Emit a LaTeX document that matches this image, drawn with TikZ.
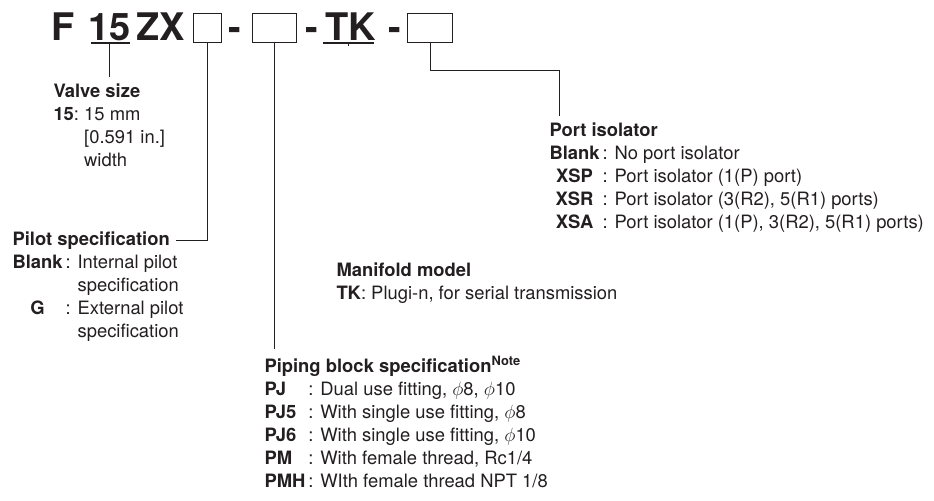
\documentclass[tikz,border=0pt]{standalone}
\usepackage{fontspec}
\setmainfont{TeX Gyre Heros}
\usetikzlibrary{calc}
\definecolor{ink}{HTML}{231F20}
\begin{document}
\begin{tikzpicture}[x=.75pt,y=-.75pt,color=ink,line width=.75pt,
  code/.style={font=\fontsize{28.5}{30}\selectfont\bfseries,inner sep=0,anchor=base west},
  blank/.style={draw,line width=1pt,minimum width=#1,minimum height=21.75pt,inner sep=0,anchor=north west},
  head/.style={font=\fontsize{13.8}{17.25}\selectfont\bfseries,inner sep=0,anchor=base west},
  txt/.style={font=\fontsize{13.8}{17.25}\selectfont,inner sep=0,anchor=base west},
  lead/.style={shorten >=4.5pt}]
\useasboundingbox(0,0)rectangle(934,500);
% model code
\node[code](f)at(51,40){F};\node[code](sz)at(88,40){15};\node[code](zx)at(136,40){ZX};
\node[blank=21pt](b1)at(193,13){};\node[code](d1)at(228,40){-};
\node[blank=33pt](b2)at(252,13){};\node[code](d2)at(305,40){-};
\node[code](tk)at(325,40){TK};\node[code](d3)at(388,40){-};
\node[blank=33.75pt](b3)at(407,13){};
\draw[line width=1pt]($(sz.base west)+(3,3)$)--($(sz.base east)+(-1,3)$);
\draw[line width=1pt]($(tk.base west)+(-2,3)$)--($(tk.base east)+(-3,3)$);
% valve size
\node[head](vs)at(53,97){Valve size};
\node[txt](vsl)at(53,120){\begin{tabular}[t]{@{}l@{}l@{}}\textbf{15}:&\ 15 mm\\&\ [0.591 in.]\\&\ width\end{tabular}};
\draw[lead]($(sz.base)+(0,3)$)--(sz.base|-vs.north);
% pilot specification
\node[head](ps)at(12,245){Pilot specification};
\node[txt](psl)at(12,268){\begin{tabular}[t]{@{}c@{\,}l@{}}\textbf{Blank}&: Internal pilot\\&\phantom{: }specification\\\textbf{G}&: External pilot\\&\phantom{: }specification\end{tabular}};
\draw[lead](b1.south)|-(ps.east);
% piping block
\node[head](pb)at(264,372){Piping block specification\textsuperscript{Note}};
\node[txt](pbl)at(264,395){\begin{tabular}[t]{@{}l@{\,}l@{}}\textbf{PJ}&: Dual use fitting, $\phi$8, $\phi$10\\\textbf{PJ5}&: With single use fitting, $\phi$8\\\textbf{PJ6}&: With single use fitting, $\phi$10\\\textbf{PM}&: With female thread, Rc1/4\\\textbf{PMH}&: WIth female thread NPT 1/8\end{tabular}};
\draw[lead](b2.south)--(b2.south|-pb.north);
% manifold model
\node[head](mm)at(336,276){Manifold model};
\node[txt](mml)at(336,299){\textbf{TK}: Plugi-n, for serial transmission};
\draw[lead]($(tk.base)+(-2,3)$)--($(tk.base)+(-2,0)$|-mm.north);
% port isolator
\node[head](pi)at(549,136){Port isolator};
\node[txt](pil)at(549,159){\begin{tabular}[t]{@{}c@{\,}l@{}}\textbf{Blank}&: No port isolator\\\textbf{XSP}&: Port isolator (1(P) port)\\\textbf{XSR}&: Port isolator (3(R2), 5(R1) ports)\\\textbf{XSA}&: Port isolator (1(P), 3(R2), 5(R1) ports)\end{tabular}};
\draw[lead](b3.south)--++(0,27)-|($(pi.north west)+(10,0)$);
\end{tikzpicture}
\end{document}
